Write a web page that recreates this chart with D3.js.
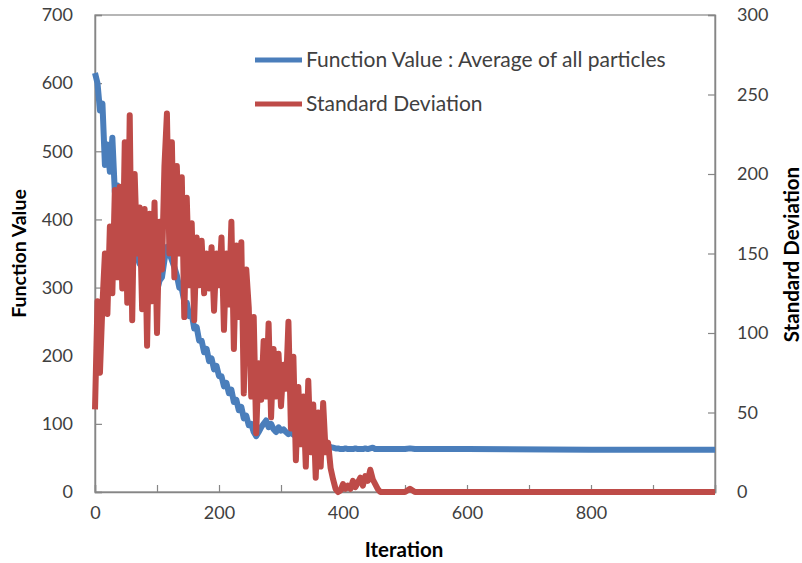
<!DOCTYPE html>
<html>
<head>
<meta charset="utf-8">
<script src="https://cdn.jsdelivr.net/npm/d3@7/dist/d3.min.js"></script>
<style>
  body { margin: 0; background: #fff; }
  svg text { font-family: Lato, "Open Sans", sans-serif; }
</style>
</head>
<body>
<svg id="chart" width="802" height="563"></svg>
<script>
// ---- data ----
const iterations = [
  0,4,8,12,16,20,24,28,32,36,40,44,48,52,56,60,64,68,72,76,80,84,88,92,96,100,
  104,108,112,116,120,124,128,132,136,140,144,148,152,156,160,164,168,172,176,180,
  184,188,192,196,200,204,208,212,216,220,224,228,232,236,240,244,248,252,256,260,
  264,268,272,276,280,284,288,292,296,300,304,308,312,316,320,324,328,332,336,340,
  344,348,352,356,360,364,368,372,376,380,384,388,392,396,400,404,408,412,416,420,
  424,428,432,436,440,444,448,452,456,460,500,508,516,600,800,1000
];
const fnValue = [
  615,600,560,570,480,510,470,520,440,450,420,410,395,380,370,360,350,345,335,330,320,325,310,300,305,295,
  310,315,340,360,350,340,330,318,300,298,280,278,258,262,240,242,222,222,205,210,
  192,196,180,185,170,170,155,160,145,150,132,135,120,125,108,112,98,100,88,82,
  88,95,100,105,95,100,92,88,95,90,92,88,85,88,84,86,82,85,80,82,
  78,80,78,80,76,78,75,72,68,66,65,64,64,63,63,64,63,63,63,64,
  63,63,63,64,63,64,65,63,63,63,63,64,63,63,62,62
];
const stdDev = [
  52,120,75,118,150,112,167,125,190,135,192,128,220,119,237,108,200,150,179,115,178,92,175,120,182,100,
  170,140,205,238,150,220,135,205,150,198,110,185,130,169,108,160,130,158,125,150,
  128,154,114,150,130,160,102,150,118,170,90,155,110,157,62,140,116,60,110,37,
  81,58,95,60,106,47,90,60,87,54,80,65,107,40,85,20,66,30,60,16,
  70,25,55,9,50,16,56,25,31,15,8,2,0,1,5,2,4,2,7,3,
  6,9,4,10,7,14,8,5,2,0,0,2,0,0,0,0
];
const leftTicks = [0,100,200,300,400,500,600,700];
const rightTicks = [0,50,100,150,200,250,300];
const xTicks = [0,100,200,300,400,500,600,700,800,900,1000];
const xLabelTicks = [0,200,400,600,800];
const seriesNames = ["Function Value : Average of all particles", "Standard Deviation"];
const colors = ["#4A7EBB", "#BE4B48"];

// ---- layout ----
const L = 95, R = 715, T = 15, B = 492;
const svg = d3.select("#chart");
const x = d3.scaleLinear().domain([0, 1000]).range([L, R]);
const yL = d3.scaleLinear().domain([0, 700]).range([B, T]);
const yR = d3.scaleLinear().domain([0, 300]).range([B, T]);
const axisColor = "#868686";
const textColor = "#404040";

// plot border
svg.append("rect").attr("x", L).attr("y", T).attr("width", R - L).attr("height", B - T)
  .attr("fill", "none").attr("stroke", axisColor).attr("stroke-width", 1.2);

// axes (ticks inside)
const gl = svg.append("g").attr("transform", `translate(${L},0)`)
  .call(d3.axisLeft(yL).tickValues(leftTicks).tickSize(-7).tickPadding(22));
const gr = svg.append("g").attr("transform", `translate(${R},0)`)
  .call(d3.axisRight(yR).tickValues(rightTicks).tickSize(-7).tickPadding(22));
const gx = svg.append("g").attr("transform", `translate(0,${B})`)
  .call(d3.axisBottom(x).tickValues(xTicks).tickSize(-7).tickPadding(14)
    .tickFormat(d => xLabelTicks.includes(d) ? d : ""));
[gl, gr, gx].forEach(g => {
  g.select(".domain").attr("stroke", axisColor).attr("stroke-width", 1.5);
  g.selectAll(".tick line").attr("stroke", axisColor).attr("stroke-width", 1.2);
  g.selectAll(".tick text").attr("fill", textColor).attr("font-size", 18)
    .style("font-family", "Lato, 'Open Sans', sans-serif");
});

// lines
const pts = iterations.map((it, i) => ({ it, f: fnValue[i], s: stdDev[i] }));
const lineF = d3.line().x(d => x(d.it)).y(d => yL(d.f));
const lineS = d3.line().x(d => x(d.it)).y(d => yR(d.s));
svg.append("path").datum(pts).attr("d", lineF).attr("fill", "none")
  .attr("stroke", colors[0]).attr("stroke-width", 6).attr("stroke-linejoin", "round");
svg.append("path").datum(pts).attr("d", lineS).attr("fill", "none")
  .attr("stroke", colors[1]).attr("stroke-width", 6).attr("stroke-linejoin", "round");

// axis titles
svg.append("text").attr("transform", `translate(26,${(T + B) / 2}) rotate(-90)`)
  .attr("text-anchor", "middle").attr("font-weight", "bold").attr("font-size", 19.5)
  .attr("fill", "#000").text("Function Value");
svg.append("text").attr("transform", `translate(799,${(T + B) / 2 + 1}) rotate(-90)`)
  .attr("text-anchor", "middle").attr("font-weight", "bold").attr("font-size", 20.5)
  .attr("fill", "#000").text("Standard Deviation");
svg.append("text").attr("x", 404).attr("y", 557)
  .attr("text-anchor", "middle").attr("font-weight", "bold").attr("font-size", 20.5)
  .attr("fill", "#000").text("Iteration");

// legend
const legend = svg.append("g");
seriesNames.forEach((name, i) => {
  const ly = 60 + i * 44;
  legend.append("line").attr("x1", 255).attr("x2", 302).attr("y1", ly).attr("y2", ly)
    .attr("stroke", colors[i]).attr("stroke-width", 5);
  legend.append("text").attr("x", 306).attr("y", ly + 7).attr("font-size", 21)
    .attr("fill", textColor).text(name);
});
</script>
</body>
</html>
